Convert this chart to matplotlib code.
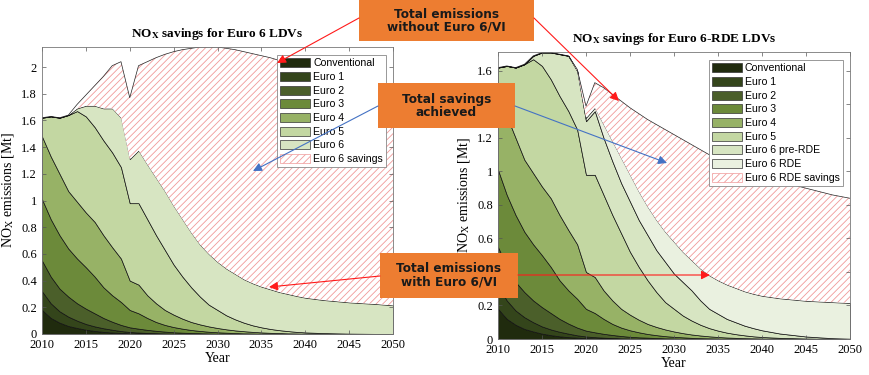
import matplotlib
matplotlib.use('Agg')
import matplotlib.pyplot as plt
import numpy as np
from matplotlib.patches import Patch, Rectangle, FancyArrowPatch
from matplotlib.ticker import FuncFormatter

plt.rcParams['font.family'] = ['Liberation Serif', 'DejaVu Serif']
plt.rcParams['mathtext.fontset'] = 'stix'
plt.rcParams['hatch.linewidth'] = 0.6

W, H = 869, 375

YEARS = [2010, 2011, 2012, 2013, 2014, 2015, 2016, 2017, 2018, 2019, 2020,
         2021, 2022, 2023, 2024, 2025, 2026, 2027, 2028, 2029, 2030, 2031,
         2032, 2033, 2034, 2035, 2036, 2037, 2038, 2039, 2040, 2042, 2045,
         2048, 2050]

# cumulative tops of each stacked layer [Mt]
CONV_TOP = [0.18, 0.12, 0.085, 0.06, 0.045, 0.032, 0.023, 0.016, 0.011, 0.008,
            0.005, 0.004, 0.003, 0.002, 0.001, 0.001, 0, 0, 0, 0, 0, 0, 0, 0,
            0, 0, 0, 0, 0, 0, 0, 0, 0, 0, 0]
E1_TOP = [0.32, 0.23, 0.17, 0.13, 0.10, 0.075, 0.057, 0.043, 0.032, 0.022,
          0.015, 0.011, 0.008, 0.006, 0.004, 0.003, 0.002, 0.002, 0.001, 0.001,
          0.001, 0, 0, 0, 0, 0, 0, 0, 0, 0, 0, 0, 0, 0, 0]
E2_TOP = [0.55, 0.43, 0.34, 0.28, 0.23, 0.19, 0.155, 0.12, 0.092, 0.068,
          0.05, 0.04, 0.031, 0.024, 0.018, 0.013, 0.010, 0.008, 0.006, 0.004,
          0.003, 0.002, 0.002, 0.001, 0.001, 0.001, 0, 0, 0, 0, 0, 0, 0, 0, 0]
E3_TOP = [1.01, 0.86, 0.74, 0.64, 0.565, 0.50, 0.43, 0.35, 0.29, 0.24,
          0.18, 0.155, 0.12, 0.09, 0.068, 0.052, 0.040, 0.030, 0.023, 0.017,
          0.013, 0.010, 0.007, 0.005, 0.004, 0.003, 0.002, 0.002, 0.001, 0.001,
          0.001, 0, 0, 0, 0]
E4_TOP = [1.48, 1.33, 1.20, 1.07, 0.99, 0.91, 0.84, 0.74, 0.65, 0.565,
          0.40, 0.37, 0.29, 0.23, 0.18, 0.145, 0.115, 0.09, 0.072, 0.057,
          0.045, 0.035, 0.027, 0.021, 0.016, 0.012, 0.009, 0.007, 0.005, 0.004,
          0.003, 0.002, 0.001, 0, 0]
E5_TOP = [1.62, 1.63, 1.62, 1.64, 1.67, 1.63, 1.55, 1.45, 1.36, 1.25,
          0.98, 0.98, 0.86, 0.74, 0.63, 0.52, 0.43, 0.35, 0.28, 0.22,
          0.18, 0.14, 0.11, 0.085, 0.065, 0.05, 0.038, 0.029, 0.022, 0.016,
          0.012, 0.007, 0.003, 0.001, 0]

# left chart: Euro 6
E6_TOP = [1.62, 1.63, 1.62, 1.64, 1.69, 1.71, 1.71, 1.69, 1.69, 1.62,
          1.31, 1.375, 1.27, 1.17, 1.07, 0.96, 0.86, 0.76, 0.67, 0.60,
          0.54, 0.49, 0.45, 0.41, 0.38, 0.355, 0.335, 0.315, 0.30, 0.285,
          0.272, 0.255, 0.237, 0.225, 0.215]
E6_NO_EURO6 = [1.62, 1.63, 1.62, 1.64, 1.72, 1.79, 1.86, 1.93, 2.01, 2.04,
               1.77, 2.01, 2.04, 2.07, 2.095, 2.115, 2.13, 2.14, 2.15, 2.15,
               2.15, 2.14, 2.13, 2.115, 2.10, 2.085, 2.07, 2.05, 2.035, 2.015,
               1.995, 1.955, 1.89, 1.82, 1.77]

# right chart: Euro 6 pre-RDE / RDE
PRE_RDE_TOP = [1.62, 1.63, 1.62, 1.64, 1.69, 1.71, 1.71, 1.70, 1.69, 1.60,
               1.30, 1.36, 1.20, 1.06, 0.93, 0.82, 0.71, 0.62, 0.53, 0.46,
               0.39, 0.34, 0.29, 0.23, 0.18, 0.15, 0.12, 0.10, 0.08, 0.065,
               0.052, 0.033, 0.015, 0.005, 0.002]
RDE_TOP = [1.62, 1.63, 1.62, 1.64, 1.69, 1.71, 1.71, 1.70, 1.69, 1.60,
           1.32, 1.38, 1.28, 1.18, 1.08, 0.98, 0.88, 0.79, 0.71, 0.64,
           0.58, 0.52, 0.47, 0.42, 0.38, 0.35, 0.325, 0.305, 0.285, 0.27,
           0.258, 0.243, 0.228, 0.22, 0.215]
NO_RDE_TOP = [1.62, 1.63, 1.62, 1.64, 1.69, 1.71, 1.71, 1.70, 1.69, 1.61,
              1.39, 1.53, 1.50, 1.46, 1.42, 1.38, 1.345, 1.31, 1.28, 1.25,
              1.22, 1.19, 1.16, 1.13, 1.10, 1.08, 1.055, 1.035, 1.015, 0.995,
              0.975, 0.94, 0.90, 0.86, 0.84]

BASE_LABELS = ['Conventional', 'Euro 1', 'Euro 2', 'Euro 3', 'Euro 4', 'Euro 5']
BASE_COLORS = ['#202b0e', '#34451b', '#4b5f2a', '#6c8a3a', '#97b266', '#c3d7a2']
E6_COLOR = '#d7e5c2'
RDE_COLOR = '#eaf1e0'
HATCH_COLOR = '#f09a9a'
ORANGE = '#ED7D31'
SERIF = 'Liberation Serif'

fig = plt.figure(figsize=(W / 100, H / 100), dpi=100)


def px_axes(x0, y0, x1, y1):
    return fig.add_axes([x0 / W, 1 - y1 / H, (x1 - x0) / W, (y1 - y0) / H])


def draw_stack(ax, tops, colors, sav_low, sav_top):
    years = np.array(YEARS)
    lower = np.zeros(len(years))
    for top, color in zip(tops, colors):
        ax.fill_between(years, lower, top, facecolor=color, edgecolor='#111111',
                        linewidth=0.5)
        lower = np.array(top)
    ax.fill_between(years, sav_low, sav_top, facecolor='white', hatch='/////',
                    edgecolor=HATCH_COLOR, linewidth=0)
    ax.plot(years, sav_top, color='#222222', linewidth=0.5)


def style(ax, ymax, title):
    ax.set_xlim(2010, 2050)
    ax.set_ylim(0, ymax)
    ax.set_xticks(range(2010, 2051, 5))
    ax.set_yticks(np.arange(0, ymax + 1e-9, 0.2))
    ax.yaxis.set_major_formatter(FuncFormatter(lambda v, p: f'{v:.1f}'.rstrip('0').rstrip('.')))
    ax.tick_params(direction='in', top=True, right=True, length=3,
                   width=0.5, color='#555555', labelsize=9, pad=3.5)
    for lab in ax.get_xticklabels() + ax.get_yticklabels():
        lab.set_fontfamily(SERIF)
    for s in ax.spines.values():
        s.set_color('#777777')
        s.set_linewidth(0.6)
    ax.set_xlabel('Year', fontsize=10, labelpad=1, family=SERIF)
    ax.set_ylabel(r'NO$_{\mathrm{X}}$ emissions [Mt]', fontsize=10, labelpad=4,
                  family=SERIF)
    ax.set_title(title, fontsize=9.5, fontweight='bold', pad=7, family=SERIF)


def legend(ax, labels, colors, sav_label, anchor):
    handles = [Patch(facecolor=c, edgecolor='#333333', linewidth=0.5) for c in colors]
    handles.append(Patch(facecolor='white', edgecolor=HATCH_COLOR, hatch='/////',
                         linewidth=0.5))
    leg = ax.legend(handles, labels + [sav_label], loc='upper right',
                    bbox_to_anchor=anchor, prop={'family': 'Liberation Sans', 'size': 7.6},
                    fancybox=False, framealpha=1, edgecolor='#888888',
                    borderpad=0.3, labelspacing=0.33, handlelength=2.8,
                    handleheight=0.95, handletextpad=0.3, borderaxespad=0)
    leg.get_frame().set_linewidth(0.6)


# left chart
ax1 = px_axes(42, 47, 393, 334)
draw_stack(ax1, [CONV_TOP, E1_TOP, E2_TOP, E3_TOP, E4_TOP, E5_TOP, E6_TOP],
           BASE_COLORS + [E6_COLOR], E6_TOP, E6_NO_EURO6)
style(ax1, 2.15, r'NO$_{\mathbf{X}}$ savings for Euro 6 LDVs')
legend(ax1, BASE_LABELS + ['Euro 6'], BASE_COLORS + [E6_COLOR],
       'Euro 6 savings', (0.98, 0.972))

# right chart
ax2 = px_axes(498, 52, 850, 339)
draw_stack(ax2, [CONV_TOP, E1_TOP, E2_TOP, E3_TOP, E4_TOP, E5_TOP, PRE_RDE_TOP, RDE_TOP],
           BASE_COLORS + [E6_COLOR, RDE_COLOR], RDE_TOP, NO_RDE_TOP)
style(ax2, 1.713, r'NO$_{\mathbf{X}}$ savings for Euro 6-RDE LDVs')
legend(ax2, BASE_LABELS + ['Euro 6 pre-RDE', 'Euro 6 RDE'],
       BASE_COLORS + [E6_COLOR, RDE_COLOR], 'Euro 6 RDE savings', (0.98, 0.972))

# annotation boxes
BOXES = [
    ((359, 0, 534, 41), 'Total emissions\nwithout Euro 6/VI'),
    ((378, 83, 515, 128), 'Total savings\nachieved'),
    ((380, 253, 518, 298), 'Total emissions\nwith Euro 6/VI'),
]
for (x0, y0, x1, y1), txt in BOXES:
    fig.add_artist(Rectangle((x0 / W, 1 - y1 / H), (x1 - x0) / W, (y1 - y0) / H,
                             transform=fig.transFigure, facecolor=ORANGE,
                             edgecolor='none', zorder=5))
    fig.text((x0 + x1) / 2 / W, 1 - (y0 + y1) / 2 / H, txt, ha='center', va='center',
             family='DejaVu Sans', fontweight='bold', fontsize=8.7, linespacing=1.0,
             color='#1a1a1a', zorder=6)

ARROWS = [
    ((359, 18), (277, 63), '#ff1a1a'),
    ((534, 18), (619, 101), '#ff1a1a'),
    ((378, 106), (253, 171), '#4472C4'),
    ((515, 106), (667, 163), '#4472C4'),
    ((380, 276), (269, 287), '#ff1a1a'),
    ((518, 275), (710, 275), '#ff1a1a'),
]
for (xa, ya), (xb, yb), c in ARROWS:
    fig.add_artist(FancyArrowPatch((xa / W, 1 - ya / H), (xb / W, 1 - yb / H),
                                   transform=fig.transFigure, arrowstyle='-|>',
                                   mutation_scale=13, color=c, linewidth=0.8,
                                   shrinkA=0, shrinkB=0, zorder=7))

fig.savefig('out.png', dpi=100)
